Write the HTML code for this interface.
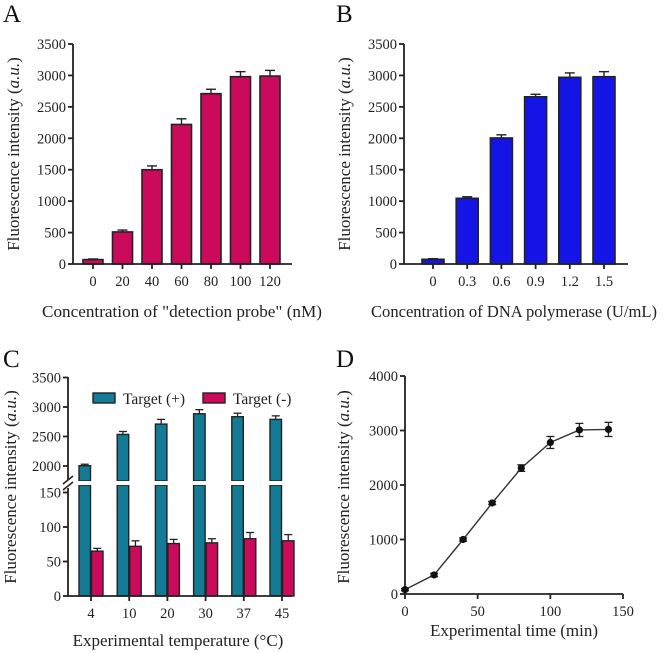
<!DOCTYPE html>
<html><head><meta charset="utf-8"><style>
html,body{margin:0;padding:0;background:#fff}
svg{display:block;font-family:"Liberation Serif",serif}
</style></head><body>
<svg id="s" width="666" height="653" viewBox="0 0 666 653" xmlns="http://www.w3.org/2000/svg"></svg>
<script>
const aCats=["0","20","40","60","80","100","120"];
const aVals=[70,510,1500,2220,2710,2980,2990];
const aErr=[10,30,60,90,70,80,90];
const bCats=["0","0.3","0.6","0.9","1.2","1.5"];
const bVals=[75,1045,2005,2660,2970,2980];
const bErr=[10,25,50,40,70,80];
const cCats=["4","10","20","30","37","45"];
const cPos=[2005,2535,2710,2885,2835,2790];
const cPosErr=[25,50,80,70,60,60];
const cNeg=[65,72,76,77,83,80];
const cNegErr=[4,8,6,6,9,9];
const dX=[0,20,40,60,80,100,120,140];
const dY=[80,350,1000,1670,2310,2780,3010,3020];
const dErr=[20,30,30,30,60,110,120,130];
const yTicks35=[0,500,1000,1500,2000,2500,3000,3500];
const dYTicks=[0,1000,2000,3000,4000];
const dXTicks=[0,50,100,150];

const svg=document.getElementById('s');
const NS="http://www.w3.org/2000/svg";
const TK=14.5, TT=17;
function el(t,a,p){const e=document.createElementNS(NS,t);for(const k in a)e.setAttribute(k,a[k]);(p||svg).appendChild(e);return e;}
function txt(s,a,p){const e=el('text',a,p);e.textContent=s;return e;}
function ln(x1,y1,x2,y2,p,w){return el('line',{x1,y1,x2,y2,stroke:'#222','stroke-width':w||1.8},p);}

function ytitle(g,x,cy){
  const t=el('text',{x:0,y:0,transform:`translate(${x},${cy}) rotate(-90)`,'text-anchor':'middle','font-size':TT,fill:'#222'},g);
  
  
  t.appendChild(document.createTextNode('Fluorescence intensity ('));
  const i=document.createElementNS(NS,'tspan');i.setAttribute('font-style','italic');i.textContent='a.u.';t.appendChild(i);
  t.appendChild(document.createTextNode(')'));
}

function barPanel(name,letter,lx,ax,x0,x1,cats,vals,errs,cx0,step,bw,color,xtitle,tcx,tlen){
  const g=el('g',{});
  
  
  const y0=264,yTop=44;
  const ys=v=>y0-(v/3500)*(y0-yTop);
  const L=txt(letter,{x:lx,y:22,'font-size':25,fill:'#111'},g);
  
  
  vals.forEach((v,i)=>{
    const cx=cx0+i*step;
    const r=el('rect',{x:cx-bw/2,y:ys(v),width:bw,height:y0-ys(v),fill:color,stroke:'#222','stroke-width':1.6},g);
    
    
    const e=ys(v+errs[i]);
    ln(cx,ys(v),cx,e,g,1.4);ln(cx-5,e,cx+5,e,g,1.4);
    ln(cx,y0,cx,y0+5,g);
    const t=txt(cats[i],{x:cx,y:y0+22,'text-anchor':'middle','font-size':TK,fill:'#222'},g);
    
    
  });
  ln(ax,yTop,ax,y0,g);ln(ax,y0,x1,y0,g);
  yTicks35.forEach(v=>{ln(ax-5,ys(v),ax,ys(v),g);
    const t=txt(v,{x:ax-7,y:ys(v)+5,'text-anchor':'end','font-size':TK,fill:'#222'},g);
    
    });
  ytitle(g,x0,154);
  const xt=txt(xtitle,{x:tcx-tlen/2,y:317,textLength:tlen,lengthAdjust:'spacingAndGlyphs','font-size':TT,fill:'#222'},g);
  
  
}
barPanel('panel-a-chart','A',3,73,19,292,aCats,aVals,aErr,93,29.5,20,'#cc0a5c','Concentration of "detection probe" (nM)',182,280);
barPanel('panel-b-chart','B',336,404,350,628,bCats,bVals,bErr,433,34.2,22,'#1414e6','Concentration of DNA polymerase (U/mL)',514,286);

// Panel C
(function(){
  const g=el('g',{});
  
  
  const ax=68,x1=292,y0=596;
  const yl=v=>y0-v*(34.5/50);
  const yu=v=>466-(v-2000)*(29.5/500);
  const L=txt('C',{x:3,y:367,'font-size':25,fill:'#111'},g);
  
  
  const cx0=91,step=38.2,bw=11.5;
  cCats.forEach((c,i)=>{
    const cx=cx0+i*step;
    const px=cx-bw-0.5;
    const topU=yu(cPos[i]);
    let r=el('rect',{x:px,y:topU,width:bw,height:481-topU,fill:'#137b96',stroke:'#222','stroke-width':1.4},g);
    
    
    let r2=el('rect',{x:px,y:485,width:bw,height:y0-485,fill:'#137b96',stroke:'#222','stroke-width':1.4},g);
    
    
    el('rect',{x:px-1,y:481,width:bw+2,height:4,fill:'#fff'},g);
    const e=yu(cPos[i]+cPosErr[i]);
    ln(px+bw/2,topU,px+bw/2,e,g,1.3);ln(px+bw/2-4,e,px+bw/2+4,e,g,1.3);
    const nx=cx+0.5;
    const topN=yl(cNeg[i]);
    const rn=el('rect',{x:nx,y:topN,width:bw,height:y0-topN,fill:'#cc0a5c',stroke:'#222','stroke-width':1.4},g);
    
    
    const en=yl(cNeg[i]+cNegErr[i]);
    ln(nx+bw/2,topN,nx+bw/2,en,g,1.3);ln(nx+bw/2-4,en,nx+bw/2+4,en,g,1.3);
    ln(cx,y0,cx,y0+5,g);
    const t=txt(c,{x:cx,y:y0+22,'text-anchor':'middle','font-size':TK,fill:'#222'},g);
    
    
  });
  ln(ax,377,ax,480,g);ln(ax,488,ax,y0,g);ln(ax,y0,x1,y0,g);
  ln(63,484,73,476,g,1.5);ln(63,490,73,482,g,1.5);
  [2000,2500,3000,3500].forEach(v=>{ln(ax-5,yu(v),ax,yu(v),g);
    const t=txt(v,{x:ax-7,y:yu(v)+5,'text-anchor':'end','font-size':TK,fill:'#222'},g);
    });
  [0,50,100,150].forEach(v=>{ln(ax-5,yl(v),ax,yl(v),g);
    const t=txt(v,{x:ax-7,y:yl(v)+5,'text-anchor':'end','font-size':TK,fill:'#222'},g);
    });
  ytitle(g,16,487);
  const lg=el('g',{},g);
  
  
  el('rect',{x:93,y:393,width:22,height:10,fill:'#137b96',stroke:'#222','stroke-width':1.4},lg);
  txt('Target (+)',{x:123,y:404,'font-size':15.5,fill:'#222'},lg);
  el('rect',{x:203,y:393,width:22,height:10,fill:'#cc0a5c',stroke:'#222','stroke-width':1.4},lg);
  txt('Target (-)',{x:233,y:404,'font-size':15.5,fill:'#222'},lg);
  const xt=txt('Experimental temperature (°C)',{x:178,y:646,'text-anchor':'middle','font-size':TT,fill:'#222'},g);
  
})();

// Panel D
(function(){
  const g=el('g',{});
  
  
  const y0=594,yT=376,x0=405,xE=623;
  const xs=v=>x0+v/150*(xE-x0);
  const ys=v=>y0-v/4000*(y0-yT);
  const L=txt('D',{x:336,y:367,'font-size':25,fill:'#111'},g);
  
  ln(x0,yT,x0,y0,g);ln(x0,y0,xE,y0,g);
  dYTicks.forEach(v=>{ln(x0-5,ys(v),x0,ys(v),g);
    const t=txt(v,{x:x0-7,y:ys(v)+5,'text-anchor':'end','font-size':TK,fill:'#222'},g);
    });
  dXTicks.forEach(v=>{ln(xs(v),y0,xs(v),y0+5,g);
    const t=txt(v,{x:xs(v),y:y0+22,'text-anchor':'middle','font-size':TK,fill:'#222'},g);
    });
  const p=el('polyline',{points:dX.map((x,i)=>xs(x)+','+ys(dY[i])).join(' '),fill:'none',stroke:'#333','stroke-width':1.4},g);
  
  dX.forEach((x,i)=>{
    const cx=xs(x),a=ys(dY[i]+dErr[i]),b=ys(dY[i]-dErr[i]);
    ln(cx,a,cx,b,g,1.3);ln(cx-4,a,cx+4,a,g,1.3);ln(cx-4,b,cx+4,b,g,1.3);
    const c=el('circle',{cx,cy:ys(dY[i]),r:3.6,fill:'#111'},g);
    
  });
  ytitle(g,349,487);
  const xt=txt('Experimental time (min)',{x:514,y:636,'text-anchor':'middle','font-size':TT,fill:'#222'},g);
  
})();
</script>
</body></html>
